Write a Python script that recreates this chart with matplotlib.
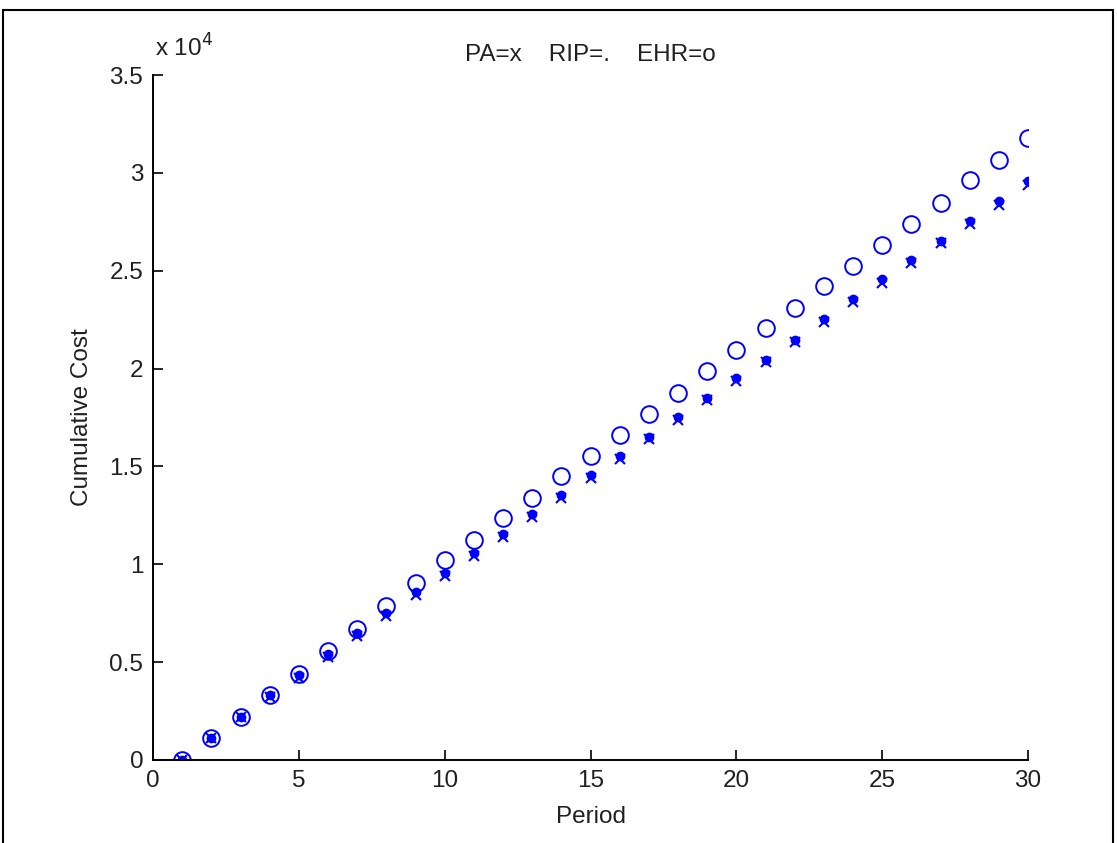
import matplotlib
matplotlib.use("Agg")
import matplotlib.pyplot as plt
from matplotlib.patches import Rectangle

plt.rcParams['font.family'] = ['Liberation Sans', 'DejaVu Sans']

period = list(range(1, 31))
ehr = [0, 1120, 2200, 3300, 4400, 5570, 6700, 7870, 9050, 10220,
       11240, 12370, 13400, 14500, 15530, 16600, 17680, 18750, 19880, 20950,
       22070, 23100, 24220, 25240, 26320, 27390, 28460, 29640, 30660, 31780]
rip = [0, 1120, 2200, 3300, 4340, 5400, 6490, 7510, 8580, 9560,
       10580, 11550, 12570, 13540, 14560, 15530, 16500, 17530, 18500, 19520,
       20440, 21460, 22530, 23560, 24580, 25550, 26520, 27540, 28560, 29590]
pa = [0, 1100, 2180, 3200, 4190, 5260, 6340, 7360, 8430, 9400,
      10420, 11400, 12400, 13400, 14400, 15380, 16400, 17370, 18400, 19370,
      20340, 21360, 22380, 23400, 24370, 25400, 26400, 27390, 28360, 29400]

xticks = [0, 5, 10, 15, 20, 25, 30]
yticks = [0, 5000, 10000, 15000, 20000, 25000, 30000, 35000]
ytick_labels = ['0', '0.5', '1', '1.5', '2', '2.5', '3', '3.5']

W, H = 1117, 843
fs = 17.5
fig = plt.figure(figsize=(W / 100, H / 100), dpi=100)
ax = fig.add_axes([153 / W, 1 - 760 / H, (1028 - 153) / W, (760 - 75) / H])

blue = (0, 0, 1)
ax.plot(period, ehr, linestyle='none', marker='o', markersize=12,
        markerfacecolor='none', markeredgecolor=blue, markeredgewidth=1.4)
ax.plot(period, rip, linestyle='none', marker='.', markersize=12, color=blue)
ax.plot(period, pa, linestyle='none', marker='x', markersize=7.5,
        markeredgewidth=1.5, color=blue)

ax.set_xlim(0, 30)
ax.set_ylim(0, 35000)
ax.set_xticks(xticks)
ax.set_xticklabels([str(t) for t in xticks])
ax.set_yticks(yticks)
ax.set_yticklabels(ytick_labels)
ax.spines['top'].set_visible(False)
ax.spines['right'].set_visible(False)
for s in ('left', 'bottom'):
    ax.spines[s].set_linewidth(1.4)
ax.tick_params(direction='in', length=7, width=1.2, labelsize=fs, pad=7,
               colors='black', labelcolor='#202020')

ax.set_xlabel('Period', fontsize=fs, labelpad=10, color='#202020')
ax.set_ylabel('Cumulative Cost', fontsize=fs, labelpad=12, color='#202020')
ax.set_title('PA=x    RIP=.    EHR=o', fontsize=fs, pad=10, color='#202020')

ax.text(0.002, 1.02, r'x 10$^{4}$', transform=ax.transAxes, fontsize=fs,
        ha='left', va='bottom', color='#202020')

fig.add_artist(Rectangle((3 / W, -0.1), (1113 - 3) / W, 1 - 10 / H + 0.1,
                         transform=fig.transFigure, fill=False,
                         edgecolor='black', linewidth=1.5, clip_on=False))

fig.savefig('out.png', dpi=100)
